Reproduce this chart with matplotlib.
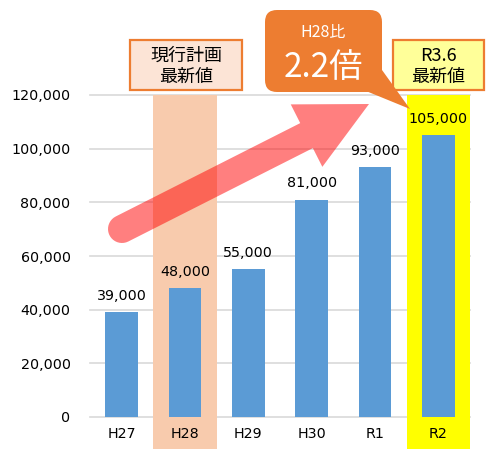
import numpy as np
import matplotlib
matplotlib.use('Agg')
import matplotlib.pyplot as plt
from matplotlib.patches import Rectangle, Polygon, FancyBboxPatch
from matplotlib.transforms import Affine2D, blended_transform_factory

plt.rcParams['font.family'] = ['DejaVu Sans', 'Noto Sans CJK JP']
JP = ['Noto Sans CJK JP', 'DejaVu Sans']

years = ['H27', 'H28', 'H29', 'H30', 'R1', 'R2']
values = [39000, 48000, 55000, 81000, 93000, 105000]
value_labels = ['39,000', '48,000', '55,000', '81,000', '93,000', '105,000']
y_ticks = [0, 20000, 40000, 60000, 80000, 100000, 120000]

W, H = 487, 449
fig = plt.figure(figsize=(W / 100, H / 100), dpi=100)
ax = fig.add_axes([90 / W, 1 - 417 / H, 380 / W, 322 / H])

# pixel coords from top-left
pix = Affine2D().scale(1, -1).translate(0, H)

x = np.arange(len(years))
ax.set_xlim(-0.5, len(years) - 0.5)
ax.set_ylim(0, 120000)

# gridlines (drawn by hand so the bands can cover them)
for t in y_ticks:
    ax.axhline(t, color='#D9D9D9', lw=1.2, zorder=0.5, clip_on=False)

# highlight bands (H28, R2)
bt = blended_transform_factory(ax.transData, ax.transAxes)
ax.add_patch(Rectangle((1 - 0.5, -0.1), 1, 1.1, transform=bt, color='#F8CBAD',
                       clip_on=False, zorder=1, lw=0))
ax.add_patch(Rectangle((5 - 0.5, -0.1), 1, 1.1, transform=bt, color='#FFFF00',
                       clip_on=False, zorder=1, lw=0))

ax.bar(x, values, width=0.52, color='#5B9BD5', zorder=2)
for xi, v, lab in zip(x, values, value_labels):
    ax.text(xi, v + 3500, lab, ha='center', va='bottom', fontsize=10.3, zorder=3)

ax.set_yticks(y_ticks)
ax.set_yticklabels([f'{t:,}' for t in y_ticks])
ax.set_xticks(x)
ax.set_xticklabels(years)
ax.tick_params(length=0, labelsize=10.3)
ax.tick_params(axis='y', pad=14)
ax.tick_params(axis='x', pad=7)
for s in ax.spines.values():
    s.set_visible(False)

# big red arrow
S = np.array([122.0, 229.0])
T = np.array([369.0, 104.0])
u = (T - S) / np.linalg.norm(T - S)
n = np.array([-u[1], u[0]])
hw, head_len, head_hw = 14, 70, 35
base = T - head_len * u
pts = [base + hw * n, base + head_hw * n, T, base - head_hw * n, base - hw * n]
for a in np.linspace(0, np.pi, 20):
    d = np.cos(a) * (-n) + np.sin(a) * (-u)
    pts.append(S + hw * d)
fig.patches.append(Polygon(pts, closed=True, transform=pix, facecolor='#FF0000',
                           alpha=0.5, lw=0, zorder=5))

# callout
fig.patches.append(FancyBboxPatch((265, 10), 117, 82, boxstyle='round,pad=0,rounding_size=12',
                                  transform=pix, facecolor='#ED7D31', lw=0, zorder=6))
fig.patches.append(Polygon([(366, 91), (382, 70), (410, 109)], closed=True, transform=pix,
                           facecolor='#ED7D31', lw=0, zorder=6))
fig.text(323.5 / W, 1 - 32 / H, 'H28比', color='white', fontsize=11.5, ha='center',
         va='center', zorder=7, family=JP)
fig.text(323.5 / W, 1 - 67 / H, '2.2倍', color='white', fontsize=24, ha='center',
         va='center', zorder=7, family=JP)

# label boxes
fig.patches.append(Rectangle((130, 40), 112, 50, transform=pix, facecolor='#FCE4D6',
                             edgecolor='#ED7D31', lw=1.6, zorder=6))
fig.text(186 / W, 1 - 66 / H, '現行計画\n最新値', fontsize=13, ha='center', va='center',
         linespacing=1.2, zorder=7, family=JP)
fig.patches.append(Rectangle((393, 40), 91, 50, transform=pix, facecolor='#FFFF99',
                             edgecolor='#ED7D31', lw=1.6, zorder=5.5))
fig.text(438 / W, 1 - 66 / H, 'R3.6\n最新値', fontsize=13, ha='center', va='center',
         linespacing=1.2, zorder=7, family=JP)

fig.savefig('out.png', dpi=100)
